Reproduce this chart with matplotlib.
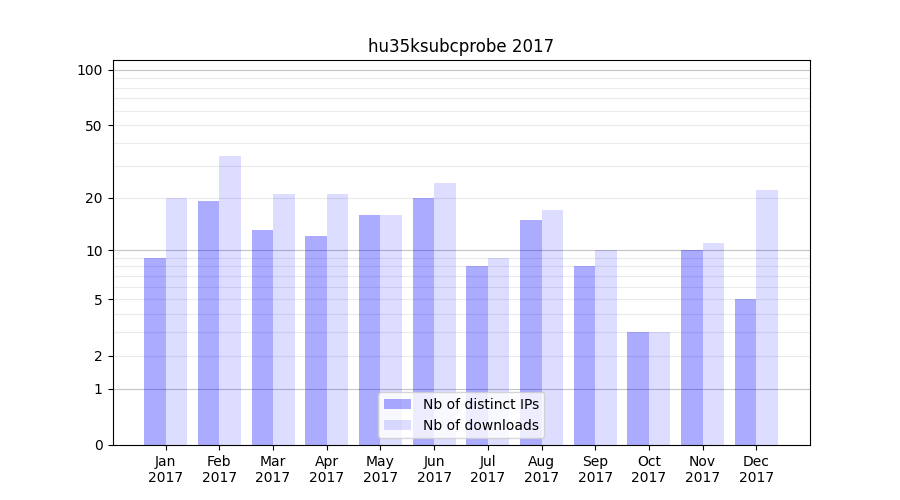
import numpy as np
import matplotlib
matplotlib.use('Agg')
import matplotlib.pyplot as plt

months = ['Jan', 'Feb', 'Mar', 'Apr', 'May', 'Jun', 'Jul', 'Aug', 'Sep', 'Oct', 'Nov', 'Dec']
year = '2017'
distinct_ips = [9, 19, 13, 12, 16, 20, 8, 15, 8, 3, 10, 5]
downloads = [20, 34, 21, 21, 16, 24, 9, 17, 10, 3, 11, 22]
ytick_values = [0, 1, 2, 5, 10, 20, 50, 100]

x = np.arange(1, len(months) + 1)

fig, ax = plt.subplots(figsize=(9, 5), dpi=100)
ax.set_yscale('function', functions=(lambda v: np.log10(np.maximum(v, -0.999) + 1),
                                     lambda v: 10 ** v - 1))

# faint lines at 2..9, 20..90, darker at decades
for d in [1, 10]:
    for k in range(2, 10):
        ax.axhline(d * k, color='#ebebeb', lw=0.8, zorder=0)
for d in [1, 10, 100]:
    ax.axhline(d, color='#c4c4c4', lw=0.8, zorder=0)

ax.bar(x - 0.2, distinct_ips, width=0.4, color='blue', alpha=0.33, label='Nb of distinct IPs', zorder=1)
ax.bar(x + 0.2, downloads, width=0.4, color='blue', alpha=0.135, label='Nb of downloads', zorder=1)

ax.set_ylim(0, 113)
ax.set_xlim(0.01, 13)
ax.set_yticks(ytick_values)
ax.set_yticklabels([str(v) for v in ytick_values])
ax.yaxis.set_minor_locator(matplotlib.ticker.NullLocator())
ax.set_xticks(x)
ax.set_xticklabels([m + '\n' + year for m in months])
ax.set_title('hu35ksubcprobe 2017')
ax.legend(loc='lower center')

fig.savefig('out.png')
